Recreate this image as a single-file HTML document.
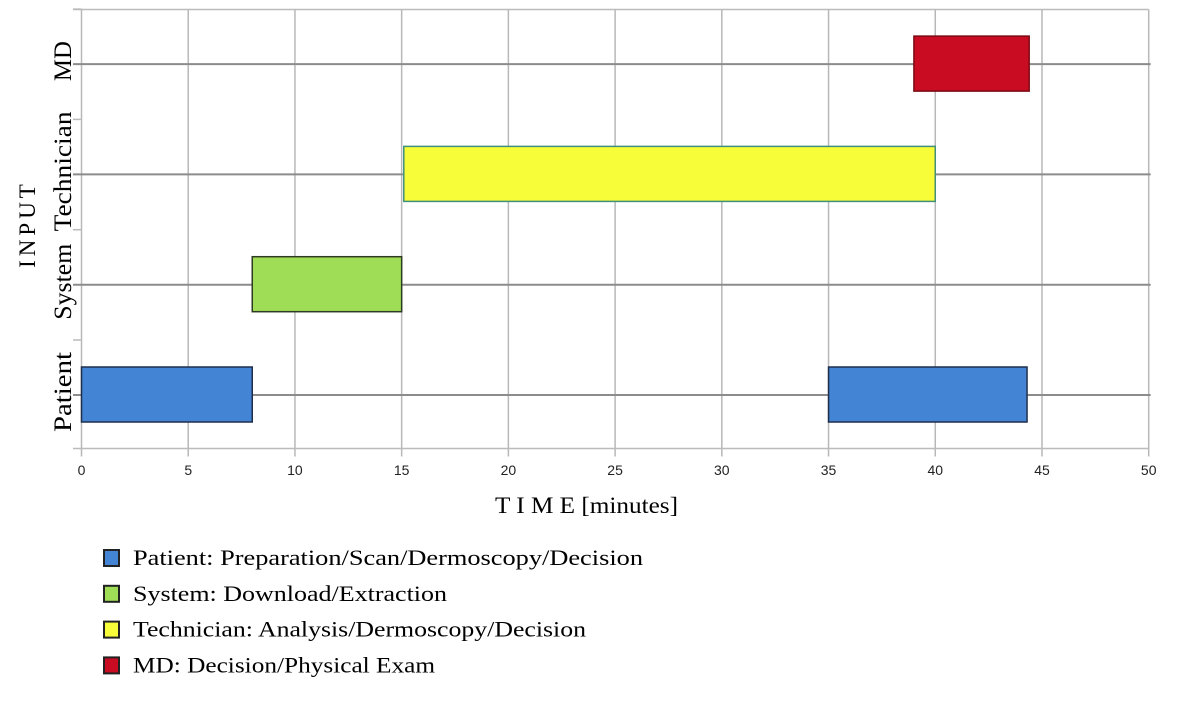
<!DOCTYPE html>
<html><head><meta charset="utf-8"><style>
html,body{margin:0;padding:0;background:#fff;width:1185px;height:713px;overflow:hidden}
.serif{font-family:"Liberation Serif",serif}
.sans{font-family:"Liberation Sans",sans-serif}
</style></head><body>
<svg id="chart" width="1185" height="713" viewBox="0 0 1185 713">
<g id="grid"></g>
<g id="bars"></g>
<g id="xticks"></g>
<g id="ylabels"></g>
<text class="serif" x="495" y="513" font-size="23" textLength="183" lengthAdjust="spacingAndGlyphs">T I M E  [minutes]</text>
<text class="serif" transform="translate(35,224) rotate(-90)" font-size="23" text-anchor="middle" letter-spacing="4">INPUT</text>
<g id="legend"></g>
</svg>
<script>
const categories = ["Patient","System","Technician","MD"];
const seriesCategory = ["Patient","System","Technician","MD","Patient"];
const seriesStart = [0, 8, 15.1, 39, 35];
const seriesEnd = [8, 15, 40, 44.4, 44.3];
const xTicks = [0,5,10,15,20,25,30,35,40,45,50];
const legendLabels = ["Patient: Preparation/Scan/Dermoscopy/Decision","System: Download/Extraction","Technician: Analysis/Dermoscopy/Decision","MD: Decision/Physical Exam"];

const legendWidths = [510,314,453,302];
const labelWidths = {Patient:80,System:76,Technician:120,MD:40};
const colors = {Patient:"#4384d4",System:"#9edd55",Technician:"#f8fd3a",MD:"#c90c22"};
const strokes = {Patient:"#1f2f4a",System:"#2f3a22",Technician:"#3f8f7a",MD:"#7a0a14"};
const NS="http://www.w3.org/2000/svg";
const L=81.5,R=1148.7,T=9.5,B=448.5;
const xs=v=>L+(v-0)/(50-0)*(R-L);
const ys=c=>395-categories.indexOf(c)*110.3;
function mk(tag,attrs,parent){const e=document.createElementNS(NS,tag);for(const k in attrs)e.setAttribute(k,attrs[k]);parent.appendChild(e);return e;}
const grid=document.getElementById('grid');
mk('line',{x1:73,x2:R,y1:T,y2:T,stroke:"#bbb","stroke-width":1.5},grid);
xTicks.forEach(t=>{
  const l=mk('line',{x1:xs(t),x2:xs(t),y1:T,y2:B+8,stroke:"#b8b8b8","stroke-width":1.5},grid);
  
  
});
mk('line',{x1:73,x2:R,y1:B,y2:B,stroke:"#bbb","stroke-width":1.5},grid);
categories.forEach((c,i)=>{
  const y=ys(c);
  const l=mk('line',{x1:73,x2:R+2,y1:y,y2:y,stroke:"#8c8c8c","stroke-width":2},grid);
  
  
  const m=mk('line',{x1:73,x2:L,y1:y-55,y2:y-55,stroke:"#bbb","stroke-width":1.5},grid);
  
  
});
const bars=document.getElementById('bars');
seriesStart.forEach((s,i)=>{
  const c=seriesCategory[i];const y=ys(c);
  const r=mk('rect',{x:xs(s),y:y-28,width:xs(seriesEnd[i])-xs(s),height:55,fill:colors[c],stroke:strokes[c],"stroke-width":1.5},bars);
  
  
});
const xt=document.getElementById('xticks');
xTicks.forEach(t=>{
  const e=mk('text',{x:xs(t),y:475,"font-size":14,"text-anchor":"middle",class:"sans",fill:"#222"},xt);
  e.textContent=t;
  
  
});
const yl=document.getElementById('ylabels');
categories.forEach(c=>{
  const w=labelWidths[c];
  const e=mk('text',{transform:`translate(71,${ys(c)-3+w/2}) rotate(-90)`,"font-size":25,class:"serif",textLength:w,lengthAdjust:"spacingAndGlyphs"},yl);
  e.textContent=c;
  
  
});
const lg=document.getElementById('legend');
const legCats=["Patient","System","Technician","MD"];
legendLabels.forEach((t,i)=>{
  const y=558+i*35.8;
  const r=mk('rect',{x:104,y:y-8,width:15,height:16,fill:colors[legCats[i]],stroke:"#222","stroke-width":2},lg);
  
  
  const e=mk('text',{x:133,y:y+7,"font-size":22,class:"serif",textLength:legendWidths[i],lengthAdjust:"spacingAndGlyphs"},lg);
  e.textContent=t;
  
  
});
</script>
</body></html>
